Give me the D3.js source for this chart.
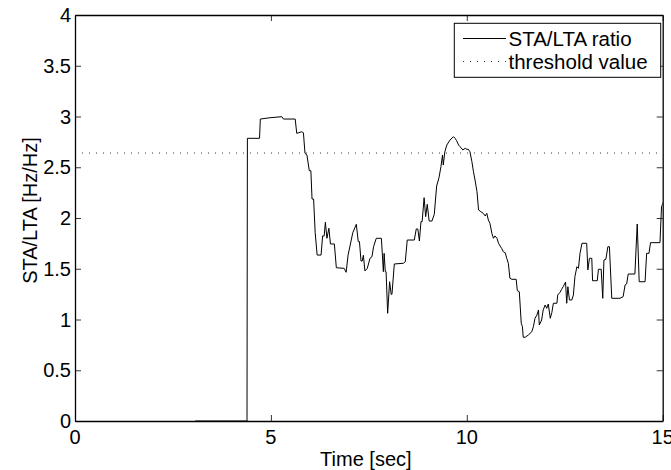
<!DOCTYPE html>
<html>
  <head>
    <meta charset="utf-8">
    <title>STA/LTA ratio</title>
    <script src="https://cdn.jsdelivr.net/npm/d3@7/dist/d3.min.js"></script>
    <style>
      body { margin: 0; background: #fff; }
      svg text { font-family: "Liberation Sans", Arial, Helvetica, sans-serif; font-size: 20px; fill: #000; }
    </style>
  </head>
  <body>
    <svg id="chart" width="671" height="470"></svg>

    <script>
      // data
      time = [3.07, 4.39, 4.40, 4.71, 4.73, 4.98, 5.28, 5.32, 5.62, 5.66, 5.79, 5.83, 5.87, 5.92, 5.98, 6.02,
        6.05, 6.09, 6.13, 6.18, 6.28, 6.32, 6.36, 6.39, 6.43, 6.48, 6.52, 6.62, 6.67, 6.87, 6.92, 6.97,
        7.03, 7.09, 7.18, 7.23, 7.26, 7.30, 7.33, 7.36, 7.40, 7.46, 7.53, 7.58, 7.62, 7.69, 7.82, 7.87,
        7.89, 7.92, 7.94, 7.98, 8.03, 8.07, 8.09, 8.15, 8.38, 8.43, 8.48, 8.66, 8.71, 8.75, 8.79, 8.83,
        8.86, 8.91, 8.95, 8.99, 9.04, 9.11, 9.17, 9.23, 9.29, 9.34, 9.38, 9.40, 9.44, 9.49, 9.57, 9.66,
        9.70, 9.74, 9.79, 9.83, 9.90, 9.96, 10.00, 10.04, 10.08, 10.13, 10.17, 10.21, 10.26, 10.30, 10.36, 10.42,
        10.47, 10.51, 10.55, 10.59, 10.64, 10.68, 10.72, 10.77, 10.81, 10.85, 10.89, 10.93, 10.98, 11.02, 11.06, 11.10,
        11.15, 11.26, 11.29, 11.34, 11.39, 11.42, 11.44, 11.49, 11.57, 11.66, 11.70, 11.74, 11.79, 11.83, 11.85, 11.91,
        11.95, 12.00, 12.04, 12.08, 12.13, 12.17, 12.21, 12.30, 12.32, 12.38, 12.42, 12.46, 12.52, 12.55, 12.58, 12.62,
        12.68, 12.72, 12.76, 12.81, 12.85, 12.89, 12.94, 13.06, 13.09, 13.13, 13.19, 13.21, 13.33, 13.36, 13.43, 13.47,
        13.50, 13.55, 13.60, 13.64, 13.70, 13.91, 13.99, 14.04, 14.08, 14.12, 14.29, 14.35, 14.40, 14.55, 14.59, 14.65,
        14.69, 14.93, 14.97, 15.02];
      ratio = [0, 0, 2.785, 2.785, 2.975, 2.988, 2.998, 2.975, 2.975, 2.834, 2.850, 2.840, 2.637, 2.621, 2.466, 2.466,
        2.187, 2.187, 1.855, 1.635, 1.635, 1.823, 1.823, 1.958, 1.800, 1.899, 1.744, 1.744, 1.510, 1.504, 1.465, 1.635,
        1.744, 1.855, 1.938, 1.767, 1.767, 1.576, 1.576, 1.633, 1.478, 1.504, 1.603, 1.619, 1.717, 1.800, 1.800, 1.471,
        1.652, 1.471, 1.471, 1.061, 1.372, 1.248, 1.248, 1.547, 1.554, 1.569, 1.783, 1.783, 1.892, 1.892, 1.773, 1.964,
        1.964, 2.200, 2.013, 2.135, 1.970, 1.970, 2.036, 2.315, 2.397, 2.505, 2.621, 2.522, 2.653, 2.719, 2.768, 2.801,
        2.785, 2.762, 2.719, 2.702, 2.670, 2.687, 2.677, 2.677, 2.653, 2.555, 2.456, 2.374, 2.259, 2.079, 2.062, 2.046,
        2.020, 2.046, 1.980, 1.948, 1.849, 1.800, 1.823, 1.800, 1.751, 1.724, 1.701, 1.668, 1.658, 1.603, 1.554, 1.406,
        1.396, 1.396, 1.284, 1.274, 0.963, 0.929, 0.825, 0.825, 0.847, 0.880, 0.929, 1.012, 1.044, 1.094, 0.946, 0.995,
        1.094, 1.143, 1.110, 1.153, 1.012, 1.067, 1.160, 1.160, 1.241, 1.268, 1.298, 1.323, 1.369, 1.160, 1.323, 1.192,
        1.192, 1.241, 1.422, 1.520, 1.504, 1.652, 1.751, 1.751, 1.488, 1.603, 1.603, 1.382, 1.382, 1.495, 1.495, 1.209,
        1.586, 1.593, 1.717, 1.717, 1.209, 1.209, 1.225, 1.340, 1.350, 1.448, 1.448, 1.941, 1.372, 1.372, 1.652, 1.652,
        1.757, 1.757, 2.111, 2.16];
      threshold = 2.64;
      xTicks = [0, 5, 10, 15];
      yTicks = [0, 0.5, 1, 1.5, 2, 2.5, 3, 3.5, 4];
      legendLabels = ["STA/LTA ratio", "threshold value"];

      // layout
      svg = d3.select("#chart");
      left = 75; top_ = 15; right = 662.7; bottom = 421;

      x = d3.scaleLinear().domain([0, 15]).range([left, right]);
      y = d3.scaleLinear().domain([0, 4]).range([bottom, top_]);

      svg.append("defs").append("clipPath")
        .attr("id", "plotClip")
        .append("rect")
          .attr("x", left).attr("y", top_)
          .attr("width", right - left).attr("height", bottom - top_);

      // threshold
      svg.append("line")
        .attr("x1", x(0)).attr("x2", x(15))
        .attr("y1", y(threshold)).attr("y2", y(threshold))
        .attr("stroke", "#333")
        .attr("stroke-width", 1)
        .attr("stroke-dasharray", "1,6");

      // ratio line
      line = d3.line()
        .x(function(d, i) { return x(time[i]); })
        .y(function(d) { return y(d); });
      svg.append("path")
        .datum(ratio)
        .attr("clip-path", "url(#plotClip)")
        .attr("d", line)
        .attr("fill", "none")
        .attr("stroke", "#000")
        .attr("stroke-width", 1);

      // axes, ticks inside on all four sides
      axes = svg.append("g");
      axes.append("g")
        .attr("transform", "translate(0," + bottom + ")")
        .call(d3.axisBottom(x).tickValues(xTicks).tickSize(-6).tickSizeOuter(0).tickFormat(""));
      axes.append("g")
        .attr("transform", "translate(0," + top_ + ")")
        .call(d3.axisTop(x).tickValues(xTicks).tickSize(-6).tickSizeOuter(0).tickFormat(""));
      axes.append("g")
        .attr("transform", "translate(" + left + ",0)")
        .call(d3.axisLeft(y).tickValues(yTicks).tickSize(-6).tickSizeOuter(0).tickFormat(""));
      axes.append("g")
        .attr("transform", "translate(" + right + ",0)")
        .call(d3.axisRight(y).tickValues(yTicks).tickSize(-6).tickSizeOuter(0).tickFormat(""));
      axes.selectAll(".domain").attr("stroke", "#000").attr("stroke-width", 1.3);
      axes.selectAll(".tick line").attr("stroke", "#000").attr("stroke-width", 0.8);

      // tick labels
      svg.selectAll(".xlab")
        .data(xTicks)
      .enter().append("text")
        .attr("class", "xlab")
        .attr("text-anchor", "middle")
        .attr("x", function(d) { return x(d); })
        .attr("y", bottom + 23)
        .text(function(d) { return d; });
      svg.selectAll(".ylab")
        .data(yTicks)
      .enter().append("text")
        .attr("class", "ylab")
        .attr("text-anchor", "end")
        .attr("x", left - 4)
        .attr("y", function(d) { return y(d) + 7; })
        .text(function(d) { return d; });

      // axis titles
      svg.append("text")
        .attr("text-anchor", "middle")
        .attr("x", (left + right) / 2 - 3)
        .attr("y", 466)
        .text("Time [sec]");
      svg.append("text")
        .attr("text-anchor", "middle")
        .attr("transform", "translate(37,210.5) rotate(-90)")
        .text("STA/LTA [Hz/Hz]");

      // legend
      legend = svg.append("g");
      legend.append("rect")
        .attr("x", 454.3).attr("y", 23.3)
        .attr("width", 206.4).attr("height", 54)
        .attr("fill", "#fff")
        .attr("stroke", "#000")
        .attr("stroke-width", 1);
      legendLabels.forEach(function(label, i) {
        rowY = 38.5 + i * 23;
        legend.append("line")
          .attr("x1", 463).attr("x2", 506)
          .attr("y1", rowY).attr("y2", rowY)
          .attr("stroke", i == 0 ? "#000" : "#333")
          .attr("stroke-width", 1)
          .attr("stroke-dasharray", i == 0 ? null : "1,6");
        legend.append("text")
          .attr("x", 508.5)
          .attr("y", rowY + 7)
          .style("font-size", "20.5px")
          .text(label);
      });
    </script>
  </body>
</html>
